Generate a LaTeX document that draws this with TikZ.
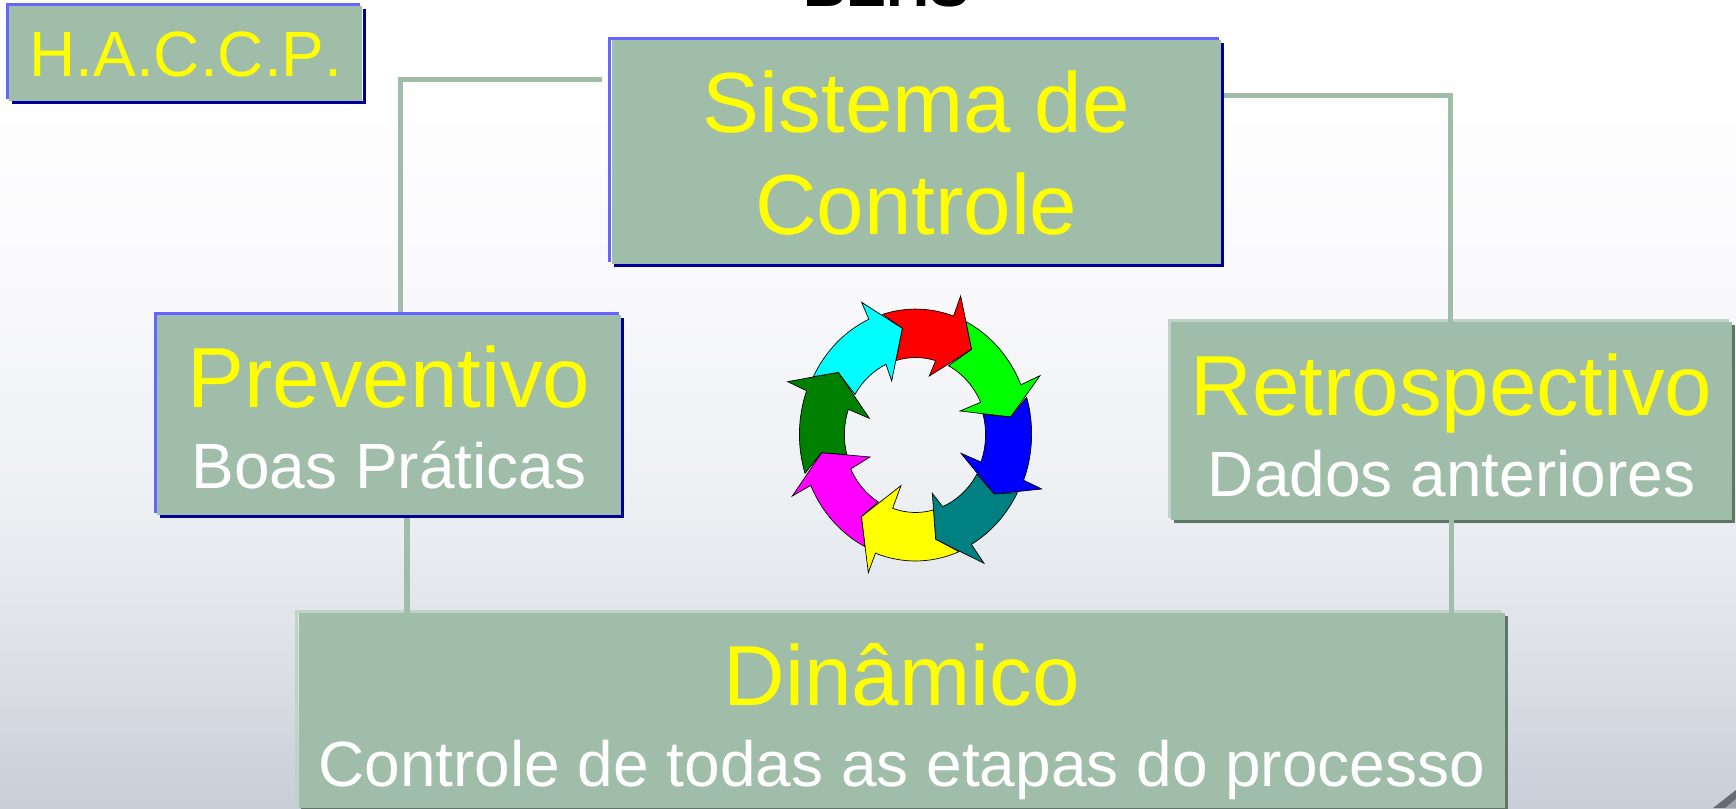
\documentclass[tikz,border=0pt]{standalone}
\usepackage{fontspec}
\setmainfont[Kerning=Off]{Liberation Sans}
\usepackage{tikz}

\definecolor{panelgreen}{HTML}{A0BDA9}
\definecolor{panellight}{HTML}{BFD3C6}
\definecolor{paneldark}{HTML}{5F7565}
\definecolor{edgeblue}{HTML}{6666FF}
\definecolor{edgenavy}{HTML}{000099}
\definecolor{bgone}{HTML}{FFFFFF}
\definecolor{bgtwo}{HTML}{FDFDFE}
\definecolor{bgthree}{HTML}{F9F9FC}
\definecolor{bgfour}{HTML}{F3F4F7}
\definecolor{bgfive}{HTML}{EDF0F3}
\definecolor{bgsix}{HTML}{E3E6EB}
\definecolor{bgseven}{HTML}{D8DBE0}
\definecolor{bgeight}{HTML}{CED3DD}
\definecolor{bgnine}{HTML}{C9CED9}
\definecolor{cornerdark}{HTML}{666A74}
\definecolor{cornerlight}{HTML}{A0A4AE}
\definecolor{ringred}{HTML}{FF0000}
\definecolor{ringlime}{HTML}{00FF00}
\definecolor{ringblue}{HTML}{0000FF}
\definecolor{ringteal}{HTML}{008080}
\definecolor{ringyellow}{HTML}{FFFF00}
\definecolor{ringpink}{HTML}{FF00FF}
\definecolor{ringgreen}{HTML}{008000}
\definecolor{ringcyan}{HTML}{00FFFF}

\pgfdeclareverticalshading{slidebg}{100bp}{color(0bp)=(bgnine); color(25bp)=(bgnine);
  color(28bp)=(bgeight); color(31.7bp)=(bgseven); color(37.9bp)=(bgsix); color(44.1bp)=(bgfive);
  color(50.2bp)=(bgfour); color(56.4bp)=(bgthree); color(65.7bp)=(bgtwo); color(71.9bp)=(bgone);
  color(100bp)=(bgone)}

\newcommand{\subfont}{\fontsize{64}{81}\selectfont}

\tikzset{
  panel/.style={rectangle, fill=panelgreen, inner sep=0pt, align=flush center, text=ringyellow,
    font=\fontsize{85.3}{102}\selectfont},
  lit blue/.style={draw=edgeblue, line width=3pt},
  lit green/.style={draw=panellight, line width=3pt},
  drop navy/.style={draw=edgenavy, line width=3pt},
  drop green/.style={draw=paneldark, line width=3pt},
  linkline/.style={draw=panelgreen, line width=5.5pt},
  ringarrow/.style={draw=black, line width=0.7pt, line join=miter},
  outerring/.style={x radius=115.3pt, y radius=126.2pt},
  innerring/.style={x radius=70.8pt, y radius=77.3pt},
}

\begin{document}
\begin{tikzpicture}[x=1pt,y=-1pt]
        \useasboundingbox (0,0) rectangle (1736,808);
        \shade[shading=slidebg] (0,0) rectangle (1736,808);
        \fill[cornerdark] (1713,808) -- (1736,790) -- (1736,808) -- cycle;
        \fill[cornerlight] (1725,808) -- (1736,799) -- (1736,808) -- cycle;

        \node[anchor=base, font=\fontsize{60}{62}\selectfont\bfseries, inner sep=0pt] (title) at (886.5,6.5) {BEHS};

        \node[panel, font=\fontsize{64}{70}\selectfont, text width=353pt, minimum height=95pt,
              text height=47pt, text depth=0pt] (haccp) at (185.9,53.5) {H.A.C.C.P.};
        \node[panel, text width=609.5pt, minimum height=224pt,
              text height=64pt, text depth=102.6pt] (sistema) at (916.25,152) {Sistema de\\Controle};
        \node[panel, text width=464.3pt, minimum height=200pt,
              text height=65.6pt, text depth=81pt] (preventivo) at (388.85,415)
              {Preventivo\\[-21pt]{\subfont\color{white}Boas Práticas}};
        \node[panel, text width=561pt, minimum height=198pt,
              text height=69pt, text depth=81pt] (retrospectivo) at (1451.5,421)
              {Retrospectivo\\[-21pt]{\subfont\color{white}Dados anteriores}};
        \node[panel, text width=1206.5pt, minimum height=195pt,
              text height=70.7pt, text depth=81.7pt] (dinamico) at (901.75,710.5)
              {Dinâmico\\[-21pt]{\subfont\color{white}Controle de todas as etapas do processo}};

        \foreach \n/\lit/\drop in {retrospectivo/lit green/drop green,dinamico/lit green/drop green}{
            \draw[\lit] ([xshift=-1.5pt,yshift=2pt]\n.south west) |- ([xshift=-3pt,yshift=1.5pt]\n.north east);
            \draw[\drop] ([xshift=3pt,yshift=-1.5pt]\n.south west) -| ([xshift=1.5pt,yshift=-3pt]\n.north east);
        }

        \coordinate (sistemaleft) at (602,79.5);
        \draw[linkline] (sistemaleft) -| ([xshift=11.5pt]preventivo.north);
        \draw[linkline] ([xshift=3pt,yshift=56.5pt]sistema.east) -| ([xshift=-1pt]retrospectivo.north);
        \draw[linkline] ([xshift=18.15pt]preventivo.south) -- ([xshift=18.15pt]preventivo.south |- dinamico.north);
        \draw[linkline] (retrospectivo.south) -- (retrospectivo.south |- dinamico.north);

        \foreach \n/\lit/\drop in {haccp/lit blue/drop navy,sistema/lit blue/drop navy,preventivo/lit blue/drop navy}{
            \draw[\lit] ([xshift=-1.5pt,yshift=2pt]\n.south west) |- ([xshift=-2.5pt,yshift=1.5pt]\n.north east);
            \draw[\drop] ([xshift=3pt,yshift=-1.5pt]\n.south west) -| ([xshift=1.5pt,yshift=-3pt]\n.north east);
        }

        \begin{scope}[shift={(760,270)},x=0.3333pt,y=-0.3333pt]
            \draw[ringarrow, fill=ringred] (368,133) arc[outerring, start angle=106.6, end angle=70.8]
                -- (602,78) -- (635,238) -- (508,318) -- (527,272)
                arc[innerring, start angle=73.6, end angle=105.9] -- (427,175) -- cycle;
            \draw[ringarrow, fill=ringlime] (618,155) arc[outerring, start angle=63.8, end angle=23.4]
                -- (840,317) -- (752,441) -- (600,423) -- (662,397)
                arc[innerring, start angle=24.7, end angle=63] -- (635,238) -- cycle;
            \draw[ringarrow, fill=ringblue] (800,382) arc[outerring, start angle=16.9, end angle=-21.5]
                -- (845,657) -- (703,672) -- (603,550) -- (663,576)
                arc[innerring, start angle=-20.7, end angle=15.3] -- (752,441) -- cycle;
            \draw[ringarrow, fill=ringteal] (772,668) arc[outerring, start angle=-27.6, end angle=-60.8]
                -- (672,880) -- (527,808) -- (517,670) -- (548,710)
                arc[innerring, start angle=-67.7, end angle=-30.3] -- (703,672) -- cycle;
            \draw[ringarrow, fill=ringyellow] (597,845) arc[outerring, start angle=-67.8, end angle=-110.3]
                -- (325,908) -- (304,740) -- (423,647) -- (398,715)
                arc[innerring, start angle=-108.9, end angle=-75.4] -- (527,808) -- cycle;
            \draw[ringarrow, fill=ringpink] (315,830) arc[outerring, start angle=-116.1, end angle=-155.6]
                -- (97,678) -- (185,548) -- (330,561) -- (272,597)
                arc[innerring, start angle=-154.4, end angle=-120.8] -- (304,740) -- cycle;
            \draw[ringarrow, fill=ringgreen] (135,610) arc[outerring, start angle=-162.1, end angle=-200.3]
                -- (83,335) -- (235,307) -- (328,445) -- (265,418)
                arc[innerring, start angle=-199.2, end angle=-165.1] -- (185,548) -- cycle;
            \draw[ringarrow, fill=ringcyan] (160,320) arc[outerring, start angle=152.7, end angle=114]
                -- (305,97) -- (427,175) -- (395,333) -- (378,283)
                arc[innerring, start angle=114.6, end angle=148.7] -- (235,307) -- cycle;
        \end{scope}
\end{tikzpicture}
\end{document}
